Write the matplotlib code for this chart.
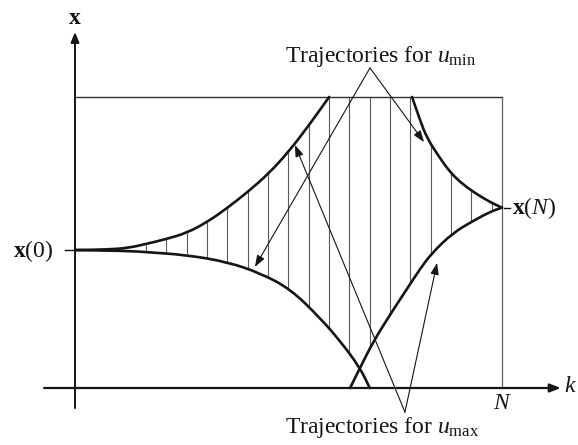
import numpy as np
import matplotlib
matplotlib.use("Agg")
import matplotlib.pyplot as plt
from matplotlib.path import Path
from matplotlib.patches import PathPatch

plt.rcParams["font.family"] = ["Liberation Serif", "DejaVu Serif"]
plt.rcParams["mathtext.fontset"] = "custom"
plt.rcParams["mathtext.rm"] = "Liberation Serif"
plt.rcParams["mathtext.it"] = "Liberation Serif:italic"
plt.rcParams["mathtext.bf"] = "Liberation Serif:bold"

# --- problem data (stage k, state x) ---------------------------------------
N = 21.0
x_upper_limit = 10.0
x0 = 4.74
xN = 6.20

# forward trajectory under u_max (upper) and u_min (lower) from x(0)
fwd_umax_k = [0.0, 1.6, 2.6, 3.5, 4.5, 5.5, 6.5, 7.5, 8.5, 9.5, 10.5, 11.5, 12.5]
fwd_umax_x = [4.74, 4.76, 4.81, 4.95, 5.12, 5.33, 5.70, 6.19, 6.74, 7.35, 8.11, 9.02, 10.0]

fwd_umin_k = [0.0, 2.6, 3.5, 5.5, 7.5, 9.1, 10.6, 12.05, 13.0, 14.0, 14.5]
fwd_umin_x = [4.74, 4.71, 4.67, 4.57, 4.33, 3.95, 3.40, 2.41, 1.65, 0.72, 0.0]

# backward trajectories ending in x(N)
bwd_umin_k = [16.58, 16.97, 17.31, 17.95, 18.45, 18.94, 19.58, 20.41, 21.0]
bwd_umin_x = [10.0, 9.21, 8.59, 7.90, 7.42, 7.08, 6.74, 6.39, 6.20]

bwd_umax_k = [13.53, 14.02, 14.66, 15.49, 16.23, 16.97, 17.56, 18.59, 19.58, 20.41, 21.0]
bwd_umax_x = [0.0, 0.69, 1.58, 2.51, 3.30, 4.09, 4.64, 5.33, 5.74, 6.05, 6.20]

# stages at which the admissible band is shown
hatch_k = [3.5, 4.5, 5.5, 6.5, 7.5, 8.5, 9.5, 10.5, 11.5, 12.5,
           13.5, 14.5, 15.5, 16.5, 17.5, 18.5, 19.5, 20.5]

# annotation arrows: apex of each label's leader and the arrow tips
umin_apex = (14.51, 11.0)
umin_tips = [(8.85, 4.16), (17.17, 8.45)]
umax_apex = (16.23, -0.83)
umax_tips = [(10.82, 8.35), (17.81, 4.30)]

# --- figure ------------------------------------------------------------------
fig = plt.figure(figsize=(5.78, 4.45), dpi=100)
ax = fig.add_axes([0, 0, 1, 1])
ax.set_xlim(-3.689, 24.742)
ax.set_ylim(-1.959, 13.333)
ax.axis("off")

ink = "#151515"


def smooth_curve(ks, xs, **kw):
    pts = list(zip(ks, xs))
    verts = [pts[0]]
    codes = [Path.MOVETO]
    mid = lambda a, b: ((a[0] + b[0]) / 2, (a[1] + b[1]) / 2)
    verts.append(mid(pts[0], pts[1]))
    codes.append(Path.LINETO)
    for i in range(1, len(pts) - 1):
        verts += [pts[i], mid(pts[i], pts[i + 1])]
        codes += [Path.CURVE3, Path.CURVE3]
    verts.append(pts[-1])
    codes.append(Path.LINETO)
    ax.add_patch(PathPatch(Path(verts, codes), fill=False, **kw))


# admissible band (vertical hatching)
for k in hatch_k:
    top = min(np.interp(k, fwd_umax_k, fwd_umax_x, right=x_upper_limit),
              x_upper_limit,
              np.interp(k, bwd_umin_k, bwd_umin_x, left=x_upper_limit))
    if k >= bwd_umax_k[0]:
        bot = np.interp(k, bwd_umax_k, bwd_umax_x)
    else:
        bot = np.interp(k, fwd_umin_k, fwd_umin_x)
    ax.plot([k, k], [bot, top], color="#5a5a5a", lw=0.8, zorder=1)

# state constraint box
ax.plot([0, N], [x_upper_limit, x_upper_limit], color="#303030", lw=1.0, zorder=2)
ax.plot([N, N], [0, x_upper_limit], color="#606060", lw=0.9, zorder=2)

# coordinate axes with arrowheads
ax.annotate("", xy=(0, 12.23), xytext=(0, -0.69),
            arrowprops=dict(arrowstyle="-|>,head_length=0.6,head_width=0.25",
                            color=ink, lw=1.4, shrinkA=0, shrinkB=0))
ax.annotate("", xy=(23.9, 0), xytext=(-1.52, 0),
            arrowprops=dict(arrowstyle="-|>,head_length=0.65,head_width=0.25",
                            color=ink, lw=1.6, shrinkA=0, shrinkB=0))

# boundary trajectories
for ks, xs in [(fwd_umax_k, fwd_umax_x), (fwd_umin_k, fwd_umin_x),
               (bwd_umin_k, bwd_umin_x), (bwd_umax_k, bwd_umax_x)]:
    smooth_curve(ks, xs, edgecolor=ink, lw=1.9, zorder=3,
                 capstyle="round", joinstyle="round")

# leader arrows
for apex, tips in [(umin_apex, umin_tips), (umax_apex, umax_tips)]:
    for tip in tips:
        ax.annotate("", xy=tip, xytext=apex,
                    arrowprops=dict(arrowstyle="-|>,head_length=0.7,head_width=0.25",
                                    color=ink, lw=0.8, shrinkA=0, shrinkB=0),
                    zorder=4)

# ticks for x(0) and x(N)
ax.plot([-0.49, 0], [x0, x0], color=ink, lw=1.0)
ax.plot([21.1, 21.38], [xN, xN], color=ink, lw=1.0)

fs = 17
ax.text(-2.07, x0 - 0.05, r"$\mathbf{x}(0)$", fontsize=fs, ha="center", va="center", color=ink)
ax.text(21.5, xN, r"$\mathbf{x}(N)$", fontsize=fs, ha="left", va="center", color=ink)
ax.text(0, 12.7, r"$\mathbf{x}$", fontsize=fs, ha="center", va="center", color=ink)
ax.text(24.05, 0.05, r"$k$", fontsize=fs, ha="left", va="center", color=ink)
ax.text(21.05, -0.52, r"$N$", fontsize=fs, ha="center", va="center", color=ink)

ax.text(15.05, 11.2, r"Trajectories for $u_{\mathrm{min}}$", fontsize=fs,
        ha="center", va="baseline", color=ink)
ax.text(15.1, -1.55, r"Trajectories for $u_{\mathrm{max}}$", fontsize=fs,
        ha="center", va="baseline", color=ink)

fig.savefig("out.png", dpi=100, facecolor="white")
